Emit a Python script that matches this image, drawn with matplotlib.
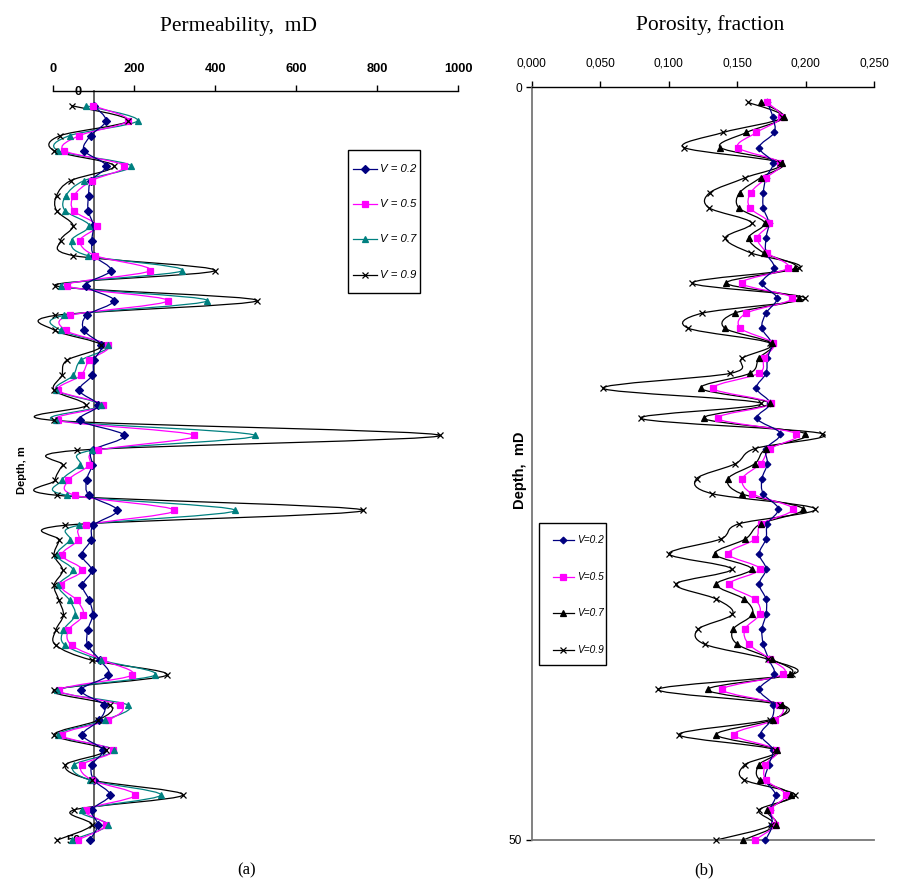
import numpy as np
import matplotlib
matplotlib.use("Agg")
import matplotlib.pyplot as plt
from matplotlib.path import Path
from matplotlib.patches import PathPatch, Rectangle

# ---------------- data ----------------
depth = list(range(1, 51))

series_labels_a = ["V = 0.2", "V = 0.5", "V = 0.7", "V = 0.9"]
series_labels_b = ["V=0.2", "V=0.5", "V=0.7", "V=0.9"]

perm_v02 = [100, 130, 92, 76, 130, 93, 87, 86, 99, 95, 100, 142, 80, 150, 82, 76, 119, 100, 96, 64,
            111, 66, 175, 97, 96, 82, 89, 158, 99, 93, 70, 95, 72, 89, 97, 85, 85, 115, 136, 68,
            125, 114, 72, 122, 95, 100, 140, 95, 110, 90]
perm_v05 = [98, 185, 64, 27, 175, 95, 51, 50, 107, 66, 103, 239, 33, 282, 40, 31, 136, 89, 68, 12,
            123, 12, 348, 111, 89, 37, 54, 299, 81, 62, 21, 72, 18, 58, 74, 37, 45, 123, 194, 14,
            165, 136, 21, 148, 70, 95, 202, 80, 130, 60]
perm_v07 = [80, 208, 40, 12, 191, 76, 31, 29, 89, 45, 85, 319, 18, 380, 26, 18, 136, 68, 49, 7,
            117, 7, 498, 95, 66, 21, 35, 449, 64, 41, 8, 49, 12, 40, 54, 25, 29, 119, 251, 10,
            185, 128, 12, 150, 50, 90, 265, 70, 135, 45]
perm_v09 = [45, 185, 17, 2, 150, 43, 8, 8, 49, 18, 49, 399, 4, 503, 4, 4, 119, 33, 21, 2,
            81, 2, 955, 58, 23, 4, 10, 765, 29, 15, 2, 23, 2, 14, 25, 6, 6, 95, 280, 2,
            140, 111, 2, 130, 30, 95, 320, 50, 95, 10]

poro_v02 = [0.172, 0.176, 0.177, 0.166, 0.176, 0.171, 0.169, 0.169, 0.173, 0.171, 0.171, 0.177, 0.168,
            0.179, 0.171, 0.168, 0.175, 0.172, 0.171, 0.164, 0.174, 0.1645, 0.1815, 0.171, 0.172, 0.168,
            0.169, 0.180, 0.172, 0.171, 0.166, 0.171, 0.166, 0.171, 0.171, 0.168, 0.169, 0.173, 0.177,
            0.166, 0.176, 0.175, 0.167, 0.176, 0.173, 0.1705, 0.178, 0.174, 0.1757, 0.1706]
poro_v05 = [0.1717, 0.1822, 0.164, 0.1506, 0.1815, 0.1713, 0.1598, 0.1591, 0.1732, 0.1647, 0.172, 0.187,
            0.1531, 0.19, 0.1567, 0.1523, 0.1761, 0.1693, 0.1657, 0.1324, 0.1744, 0.1356, 0.1931, 0.1742,
            0.1671, 0.1538, 0.1608, 0.1907, 0.1676, 0.1633, 0.1433, 0.1664, 0.144, 0.1628, 0.1664, 0.1555,
            0.1584, 0.1742, 0.1834, 0.1392, 0.1802, 0.1777, 0.1475, 0.1786, 0.1706, 0.1708, 0.1854, 0.1742,
            0.1777, 0.1628]
poro_v07 = [0.1676, 0.1839, 0.1567, 0.1377, 0.1829, 0.1671, 0.1518, 0.1511, 0.170, 0.1584, 0.1693, 0.1924,
            0.1421, 0.195, 0.1482, 0.1409, 0.175, 0.1657, 0.1591, 0.1234, 0.1737, 0.1258, 0.1997, 0.1713,
            0.1628, 0.1433, 0.1531, 0.198, 0.167, 0.156, 0.1336, 0.1604, 0.1348, 0.155, 0.1611, 0.147,
            0.1501, 0.1754, 0.1883, 0.1283, 0.1827, 0.1761, 0.1348, 0.179, 0.1659, 0.1664, 0.1895, 0.1717,
            0.1785, 0.1543]
poro_v09 = [0.1579, 0.183, 0.1397, 0.1112, 0.181, 0.156, 0.130, 0.1293, 0.1604, 0.1414, 0.1599, 0.195,
            0.1173, 0.1997, 0.1246, 0.1142, 0.174, 0.1535, 0.145, 0.0522, 0.1676, 0.0797, 0.2118, 0.1628,
            0.1487, 0.1203, 0.1319, 0.207, 0.1511, 0.138, 0.1003, 0.1458, 0.1052, 0.1348, 0.1465, 0.1214,
            0.1263, 0.1725, 0.19, 0.0923, 0.181, 0.174, 0.1074, 0.1773, 0.1555, 0.155, 0.1924, 0.1659,
            0.1749, 0.1348]

perm_ticks = [0, 200, 400, 600, 800, 1000]
poro_ticks = [0.0, 0.05, 0.10, 0.15, 0.20, 0.25]
poro_ticklabels = ["0,000", "0,050", "0,100", "0,150", "0,200", "0,250"]

# ---------------- helpers ----------------
def smooth_line(ax, xs, ys, color, lw=0.9, zorder=2):
    """Excel-like smoothed line drawn as cubic Bezier path through the data points."""
    xs = np.asarray(xs, float)
    ys = np.asarray(ys, float)
    n = len(xs)
    verts = [(xs[0], ys[0])]
    codes = [Path.MOVETO]
    for i in range(n - 1):
        i0 = i - 1 if i > 0 else i
        i3 = i + 2 if i + 2 < n else i + 1
        c1 = (xs[i] + (xs[i + 1] - xs[i0]) / 6.0, ys[i] + (ys[i + 1] - ys[i0]) / 6.0)
        c2 = (xs[i + 1] - (xs[i3] - xs[i]) / 6.0, ys[i + 1] - (ys[i3] - ys[i]) / 6.0)
        verts += [c1, c2, (xs[i + 1], ys[i + 1])]
        codes += [Path.CURVE4] * 3
    patch = PathPatch(Path(verts, codes), facecolor="none", edgecolor=color, lw=lw,
                      zorder=zorder, clip_on=False)
    ax.add_patch(patch)


fig = plt.figure(figsize=(9.02, 8.85), dpi=100)
sans = ["Liberation Sans", "DejaVu Sans"]
serif = ["Liberation Serif", "DejaVu Serif"]

W, H = 902.0, 885.0
def axrect(x0, y0, x1, y1):
    return [x0 / W, 1 - y1 / H, (x1 - x0) / W, (y1 - y0) / H]

# ---------------- panel (a) ----------------
axa = fig.add_axes(axrect(53.3, 90.7, 458.3, 840.0))
axa.set_xlim(0, 1000)
axa.set_ylim(50, 0)

styles_a = [
    dict(color="#000080", marker="D", ms=3.6),
    dict(color="#FF00FF", marker="s", ms=4.2),
    dict(color="#008080", marker="^", ms=4.6),
    dict(color="#000000", marker="x", ms=4.6),
]
perm_series = [perm_v02, perm_v05, perm_v07, perm_v09]
for vals, st in reversed(list(zip(perm_series, styles_a))):
    smooth_line(axa, vals, depth, st["color"])
for vals, st in zip(perm_series, styles_a):
    axa.plot(vals, depth, linestyle="none", marker=st["marker"], ms=st["ms"],
             color=st["color"], mec=st["color"], mew=0.9, zorder=3, clip_on=False)

for s in ["right", "bottom"]:
    axa.spines[s].set_visible(False)
axa.spines["left"].set_position(("data", 100))
axa.spines["left"].set_color("#555555")
axa.spines["left"].set_linewidth(1.3)
axa.spines["left"].set_zorder(1)
axa.spines["top"].set_linewidth(1.0)
axa.xaxis.tick_top()
axa.set_xticks(perm_ticks)
axa.set_xticklabels([str(t) for t in perm_ticks], fontweight="bold", fontsize=9.3, family=sans)
axa.tick_params(axis="x", direction="out", length=4, width=1.0, pad=7)
axa.set_yticks([0, 50])
axa.set_yticklabels(["0", "50"], fontweight="bold", fontsize=9.3, family=sans)
axa.tick_params(axis="y", length=0, pad=9)

# ---------------- panel (b) ----------------
axb = fig.add_axes(axrect(531.7, 87.3, 874.3, 840.0))
axb.set_xlim(0, 0.25)
axb.set_ylim(50, 0)

styles_b = [
    dict(color="#000080", marker="D", ms=3.4),
    dict(color="#FF00FF", marker="s", ms=4.2),
    dict(color="#000000", marker="^", ms=4.6),
    dict(color="#000000", marker="x", ms=4.6),
]
poro_series = [poro_v02, poro_v05, poro_v07, poro_v09]
for vals, st in reversed(list(zip(poro_series, styles_b))):
    smooth_line(axb, vals, depth, st["color"])
for vals, st in zip(poro_series, styles_b):
    axb.plot(vals, depth, linestyle="none", marker=st["marker"], ms=st["ms"],
             color=st["color"], mec=st["color"], mew=0.9, zorder=3, clip_on=False)

axb.spines["right"].set_visible(False)
axb.spines["left"].set_color("#777777")
axb.spines["left"].set_linewidth(1.3)
axb.spines["bottom"].set_color("#777777")
axb.spines["bottom"].set_linewidth(1.3)
axb.spines["top"].set_linewidth(1.0)
axb.xaxis.tick_top()
axb.set_xticks(poro_ticks)
axb.set_xticklabels(poro_ticklabels, fontsize=8.6, family=sans)
axb.tick_params(axis="x", direction="out", length=4, width=1.0, pad=9)
axb.set_yticks([0, 50])
axb.set_yticklabels(["0", "50"], fontsize=8.6, family=sans)
axb.tick_params(axis="y", direction="out", length=4, width=1.0, pad=3)

# ---------------- legends (overlay in pixel coordinates) ----------------
ov = fig.add_axes([0, 0, 1, 1], zorder=5)
ov.set_xlim(0, W)
ov.set_ylim(H, 0)
ov.axis("off")
ov.patch.set_alpha(0)

def draw_legend(box, rows_y, line_x, text_x, labels, styles, fsize):
    x0, y0, x1, y1 = box
    ov.add_patch(Rectangle((x0, y0), x1 - x0, y1 - y0, facecolor="white",
                           edgecolor="black", lw=1.0))
    for yy, lab, st in zip(rows_y, labels, styles):
        ov.plot(line_x, [yy, yy], color=st["color"], lw=0.9)
        ov.plot([(line_x[0] + line_x[1]) / 2], [yy], linestyle="none", marker=st["marker"],
                ms=st["ms"], color=st["color"], mec=st["color"], mew=0.9)
        ov.text(text_x, yy, lab, ha="left", va="center", family=sans, style="italic",
                fontsize=fsize)

draw_legend((347.7, 150.0, 420.0, 292.7), [169.3, 203.7, 239.0, 275.0], [352.7, 376.7],
            379.5, series_labels_a, styles_a, 8.2)
draw_legend((539.3, 523.0, 606.0, 665.0), [540.0, 577.0, 613.0, 650.0], [552.7, 574.0],
            577.5, series_labels_b, styles_b, 7.3)

# ---------------- texts ----------------
fig.text(238 / W, 1 - 27 / H, "Permeability,  mD", ha="center", va="center",
         family=serif, fontsize=15.5)
fig.text(710 / W, 1 - 25 / H, "Porosity, fraction", ha="center", va="center",
         family=serif, fontsize=15.5)
fig.text(247 / W, 1 - 870 / H, "(a)", ha="center", va="center", family=serif, fontsize=12)
fig.text(704 / W, 1 - 870 / H, "(b)", ha="center", va="center", family=serif, fontsize=12)
fig.text(22 / W, 1 - 470 / H, "Depth, m", ha="center", va="center", rotation=90,
         family=sans, fontweight="bold", fontsize=8)
fig.text(520 / W, 1 - 470 / H, "Depth,  mD", ha="center", va="center", rotation=90,
         family=sans, fontweight="bold", fontsize=10.5)

fig.savefig("out.png", dpi=100)
